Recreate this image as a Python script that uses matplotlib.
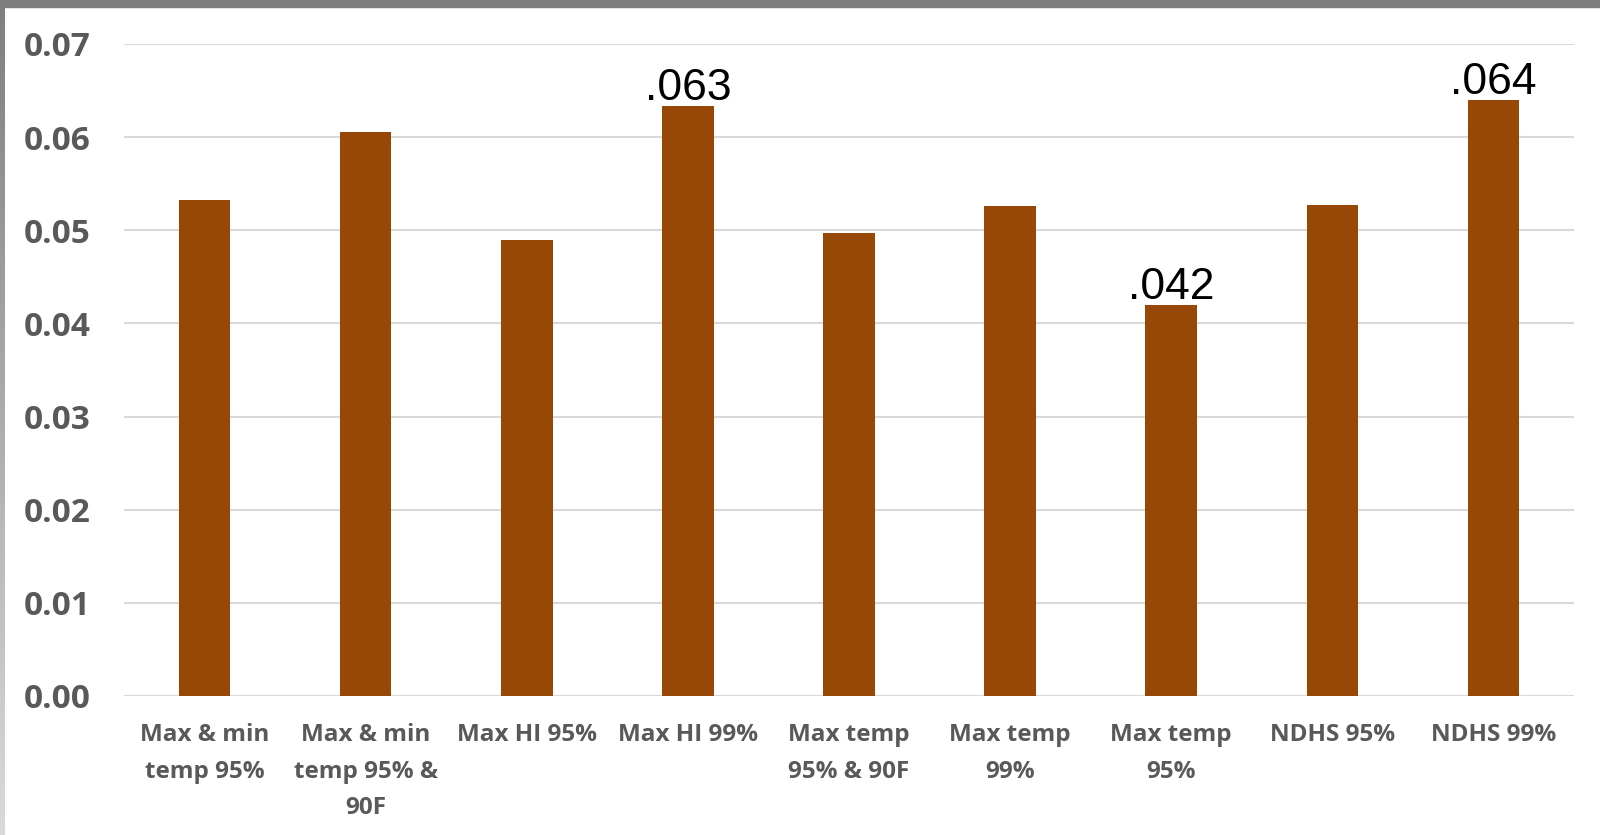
import numpy as np
import matplotlib.pyplot as plt

# data
categories = ["Max & min\ntemp 95%", "Max & min\ntemp 95% &\n90F", "Max HI 95%",
              "Max HI 99%", "Max temp\n95% & 90F", "Max temp\n99%", "Max temp\n95%",
              "NDHS 95%", "NDHS 99%"]
values = [0.0533, 0.0605, 0.0490, 0.0633, 0.0497, 0.0526, 0.0420, 0.0527, 0.0640]
notes = ["", "", "", ".063", "", "", ".042", "", ".064"]
yticks = [0.00, 0.01, 0.02, 0.03, 0.04, 0.05, 0.06, 0.07]

fig = plt.figure(figsize=(16, 8.35), dpi=100)
ax = fig.add_axes([124/1600, 1 - 696/835, 1450/1600, 652/835])

x = np.arange(len(categories))
ax.bar(x, values, width=0.32, color="#974706", zorder=3)

for xi, v, t in zip(x, values, notes):
    if t:
        ax.annotate(t, (xi, v), xytext=(0, -2), textcoords="offset points",
                    ha="center", va="bottom", fontsize=32,
                    family="Liberation Sans", color="black")

ax.set_xlim(-0.5, len(categories) - 0.5)
ax.set_ylim(0, 0.07)
ax.set_yticks(yticks)
ax.set_yticklabels([f"{t:.2f}" for t in yticks], fontsize=24, fontweight="bold",
                   color="#595959", family="Open Sans")
ax.set_xticks(x)
ax.set_xticklabels(categories, fontsize=17.5, fontweight="bold", color="#595959",
                   family="Open Sans", linespacing=1.7, va="top")
ax.tick_params(axis="both", length=0)
ax.tick_params(axis="x", pad=19.5)
ax.tick_params(axis="y", pad=24)
ax.grid(axis="y", color="#d9d9d9", linewidth=1.5, zorder=0)
for s in ax.spines.values():
    s.set_visible(False)

# gray frame on top and left
fig.add_artist(plt.Rectangle((0, 1 - 7/835), 1, 7/835, transform=fig.transFigure,
                             color="#7f7f7f", zorder=10))
grad = fig.add_axes([0, 0, 5/1600, 1 - 7/835])
grad.imshow(np.linspace(0.5, 0.85, 100).reshape(-1, 1), cmap="gray", vmin=0, vmax=1,
            aspect="auto")
grad.axis("off")

fig.savefig("out.png", dpi=100)
